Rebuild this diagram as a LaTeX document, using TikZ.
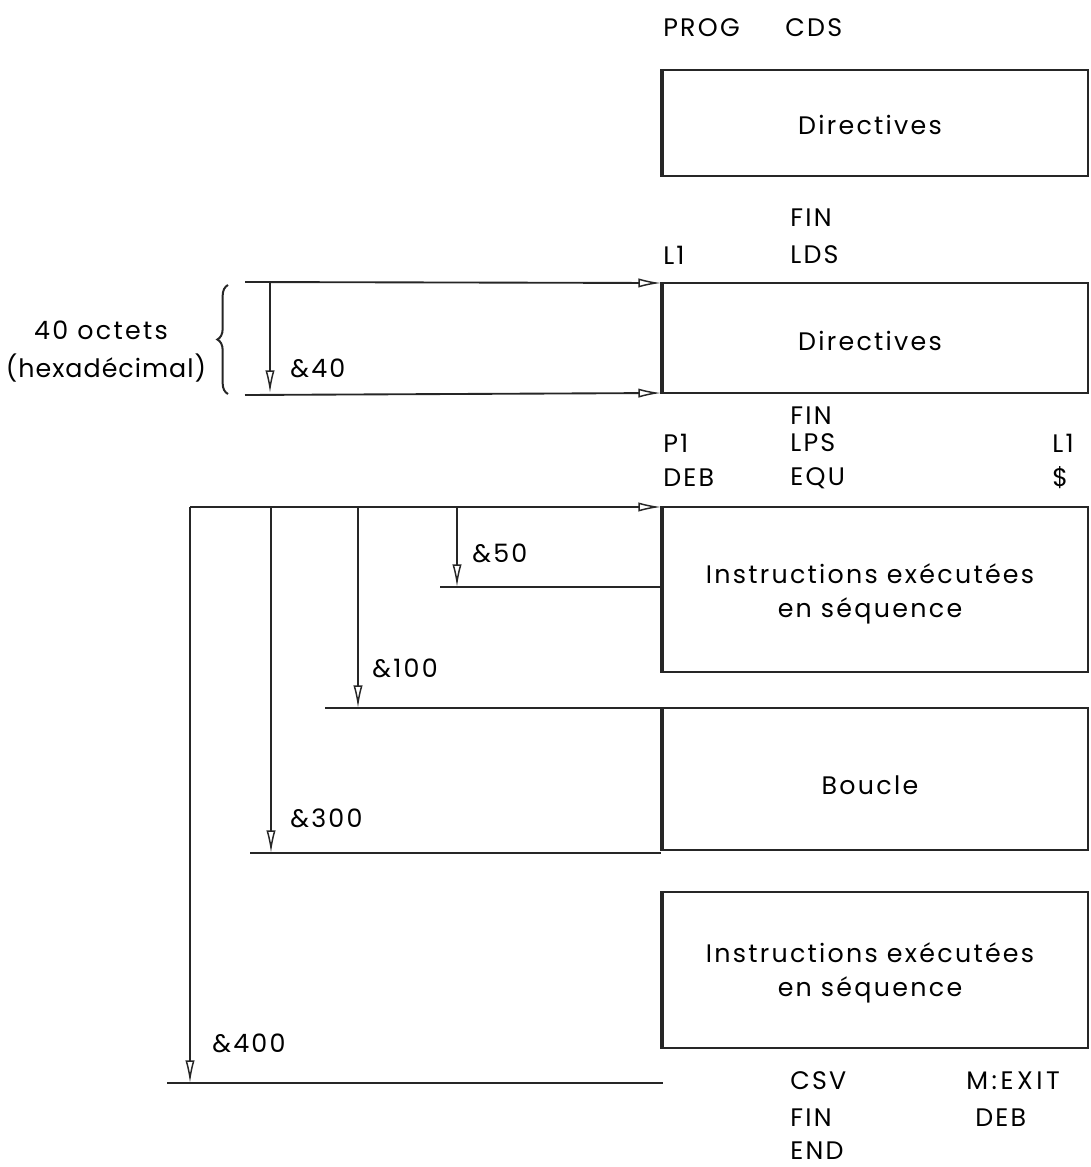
\documentclass[tikz,border=0pt]{standalone}
\usepackage{fontspec}
\setmainfont[LetterSpace=9]{Poppins}
\usetikzlibrary{arrows.meta,decorations.pathreplacing}
\begin{document}
\begin{tikzpicture}[x=0.75pt,y=-0.75pt,
  lbl/.style={font=\fontsize{19}{22}\selectfont, inner sep=0pt, anchor=west},
  boxtxt/.style={font=\fontsize{19}{26}\selectfont, align=center, inner sep=0pt},
  memblock/.style={draw=black!85, line width=1.4pt},
  thickedge/.style={draw=black!85, line width=2.8pt},
  ln/.style={draw=black!85, line width=1.4pt},
  arr/.style={ln, -{Latex[open,length=17pt,width=7pt,line width=1.1pt]}}]
\useasboundingbox (0,0) rectangle (1090,1167);
% boxes
\path[memblock] (661,70) rectangle (1088,176);
\path[memblock] (661,283) rectangle (1088,393);
\path[memblock] (661,507) rectangle (1088,672);
\path[memblock] (661,708) rectangle (1088,850);
\path[memblock] (661,892) rectangle (1088,1048);
\foreach \a/\b in {70/176,283/393,507/672,708/850,892/1048}
  \path[thickedge] (662,\a) -- (662,\b);
\coordinate (b2nw) at (661,283);
\coordinate (b2sw) at (661,393);
\coordinate (b3nw) at (661,507);
\coordinate (b3w50) at (661,587);
\coordinate (b4nw) at (661,708);
\coordinate (b4sw) at (661,853);
\coordinate (end400) at (663,1083);
\node[boxtxt] (d1) at (870,125) {Directives};
\node[boxtxt] (d2) at (870,341) {Directives};
\node[boxtxt] (i1) at (870,594) {Instructions exécutées\\en séquence};
\node[boxtxt] (bo) at (870,785) {Boucle};
\node[boxtxt] (i2) at (870,973) {Instructions exécutées\\en séquence};
% listing text
\node[lbl] (prog) at (663,28) {PROG};
\node[lbl] (cds) at (785,28) {CDS};
\node[lbl] (fin1) at (790,218) {FIN};
\node[lbl] (l1a) at (663,255) {L1};
\node[lbl] (lds) at (790,255) {LDS};
\node[lbl] (fin2) at (790,416) {FIN};
\node[lbl] (p1) at (663,443) {P1};
\node[lbl] (lps) at (790,443) {LPS};
\node[lbl] (l1b) at (1052,443) {L1};
\node[lbl] (deb1) at (663,478) {DEB};
\node[lbl] (equ) at (790,478) {EQU};
\node[lbl] (dol) at (1052,478) {\$};
\node[lbl] (csv) at (790,1081) {CSV};
\node[lbl] (mexit) at (966,1081) {\addfontfeature{LetterSpace=14}M:EXIT};
\node[lbl] (fin3) at (790,1118) {FIN};
\node[lbl] (deb2) at (975,1118) {DEB};
\node[lbl] (endn) at (790,1151) {END};
% 40 octets part
\coordinate (t40) at (245,282);
\coordinate (b40) at (245,395);
\coordinate (v40t) at (270,282);
\coordinate (v40b) at (270,393);
\draw[arr] (t40) -- (b2nw);
\draw[arr] (b40) -- (b2sw);
\draw[arr] (v40t) -- (v40b);
\node[lbl] (l40) at (290,368) {\&40};
\draw[ln, line width=1.5pt, decorate, decoration={brace, amplitude=8pt}] (228,394) -- (228,285);
\node[lbl, anchor=center] (oct) at (101,330) {40 octets};
\node[lbl, anchor=center] (hex) at (106,368) {\addfontfeature{LetterSpace=4}(hexadécimal)};
% DEB part
\coordinate (t0) at (190,507);
\coordinate (v400) at (190,507);
\coordinate (v300) at (271,507);
\coordinate (v100) at (358,507);
\coordinate (v50) at (457,507);
\draw[arr] (t0) -- (b3nw);
\coordinate (h50s) at (440,587);
\coordinate (h100s) at (325,708);
\coordinate (h300s) at (250,853);
\coordinate (h400s) at (167,1083);
\draw[ln] (h50s) -- (b3w50);
\draw[ln] (h100s) -- (b4nw);
\draw[ln] (h300s) -- (b4sw);
\draw[ln] (h400s) -- (end400);
\draw[arr] (v50) -- (v50 |- h50s);
\draw[arr] (v100) -- (v100 |- h100s);
\draw[arr] (v300) -- (v300 |- h300s);
\draw[arr] (v400) -- (v400 |- h400s);
\node[lbl] (l50) at (472,553) {\&50};
\node[lbl] (l100) at (372,668) {\&100};
\node[lbl] (l300) at (290,818) {\&300};
\node[lbl] (l400) at (212,1043) {\&400};
\end{tikzpicture}
\end{document}
